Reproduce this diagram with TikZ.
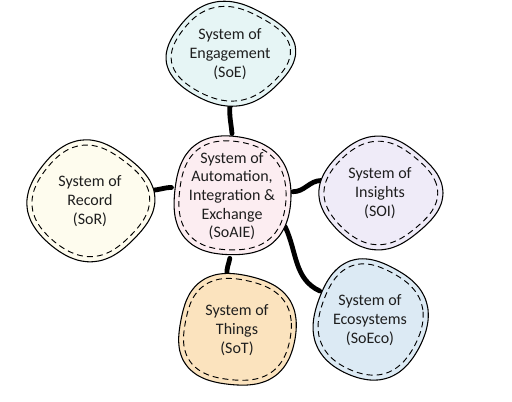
\documentclass[tikz,border=0pt]{standalone}
\usepackage{fontspec}
\setmainfont{Carlito}
\usepackage{tikz}
\usetikzlibrary{shapes.geometric,calc}

\definecolor{engcol}{HTML}{E6F5F5}
\definecolor{aiecol}{HTML}{FCEDF1}
\definecolor{reccol}{HTML}{FEFCEE}
\definecolor{inscol}{HTML}{EFEBF8}
\definecolor{thicol}{HTML}{FBE3BE}
\definecolor{ecocol}{HTML}{DCEAF4}
\definecolor{txtcol}{HTML}{1E1E1E}

\pgfdeclarelayer{links}
\pgfdeclarelayer{blobs}
\pgfsetlayers{links,blobs,main}

\tikzset{
  sysnode/.style={ellipse,inner sep=0pt,align=center,text=txtcol,
    font=\fontsize{12}{14}\selectfont},
  blobout/.style={line width=0.8pt},
  blobin/.style={line width=0.7pt,dash pattern=on 4.5pt off 3pt},
  link/.style={line width=3.6pt,line cap=round}
}

% wobbly double outline round a node: #1 node, #2 colour, #3 rx, #4 ry, #5 phase, #6 wobble
\newcommand{\blob}[6]{%
  \begin{scope}[shift={(#1.center)}]
    \draw[blobout,fill=#2] plot[smooth cycle,domain=0:350,samples=36,variable=\t]
      ({#3*(1+#6*cos(4*(\t-#5))+0.015*cos(3*\t+#5))*cos(\t)},
       {#4*(1+#6*cos(4*(\t-#5))+0.015*cos(3*\t+#5))*sin(\t)});
    \draw[blobin] plot[smooth cycle,domain=0:350,samples=36,variable=\t]
      ({(#3-5)*(1+#6*cos(4*(\t-#5))+0.015*cos(3*\t+#5))*cos(\t)},
       {(#4-5)*(1+#6*cos(4*(\t-#5))+0.015*cos(3*\t+#5))*sin(\t)});
  \end{scope}}

\begin{document}
\begin{tikzpicture}[x=0.75pt,y=0.75pt]
  \useasboundingbox (0,0) rectangle (512,402);

  \node[sysnode,minimum width=94.5pt,minimum height=76.5pt] (soe) at (230,348)
    {System of\\Engagement\\(SoE)};
  \node[sysnode,minimum width=90pt,minimum height=91.5pt] (aie) at (232,206)
    {System of\\Automation,\\Integration \&\\Exchange\\(SoAIE)};
  \node[sysnode,minimum width=93pt,minimum height=88.5pt] (sor) at (90,201)
    {System of\\Record\\(SoR)};
  \node[sysnode,minimum width=90pt,minimum height=82.5pt] (soi) at (380,209)
    {System of\\Insights\\(SOI)};
  \node[sysnode,minimum width=90pt,minimum height=85.5pt] (sot) at (237,72)
    {System of\\Things\\(SoT)};
  \node[sysnode,minimum width=85.5pt,minimum height=90pt] (soeco) at (370,82)
    {System of\\Ecosystems\\(SoEco)};

  \begin{pgfonlayer}{blobs}
    \blob{soe}{engcol}{63}{51}{10}{0.035}
    \blob{aie}{aiecol}{60}{61}{40}{0.03}
    \blob{sor}{reccol}{62}{59}{5}{0.035}
    \blob{soi}{inscol}{60}{55}{0}{0.035}
    \blob{sot}{thicol}{60}{57}{35}{0.035}
    \blob{soeco}{ecocol}{57}{60}{20}{0.03}
  \end{pgfonlayer}

  \begin{pgfonlayer}{links}
    \draw[link] (soe.south) to[out=-95,in=95] (aie.north);
    \draw[link] (sor.10) to[out=0,in=180] (aie.172);
    \draw[link] (aie.4) to[out=0,in=180] (soi.168);
    \draw[link] (aie.-30) to[out=-65,in=155] (soeco.150);
    \draw[link] (aie.-92) to[out=-100,in=95] (sot.100);
  \end{pgfonlayer}
\end{tikzpicture}
\end{document}
